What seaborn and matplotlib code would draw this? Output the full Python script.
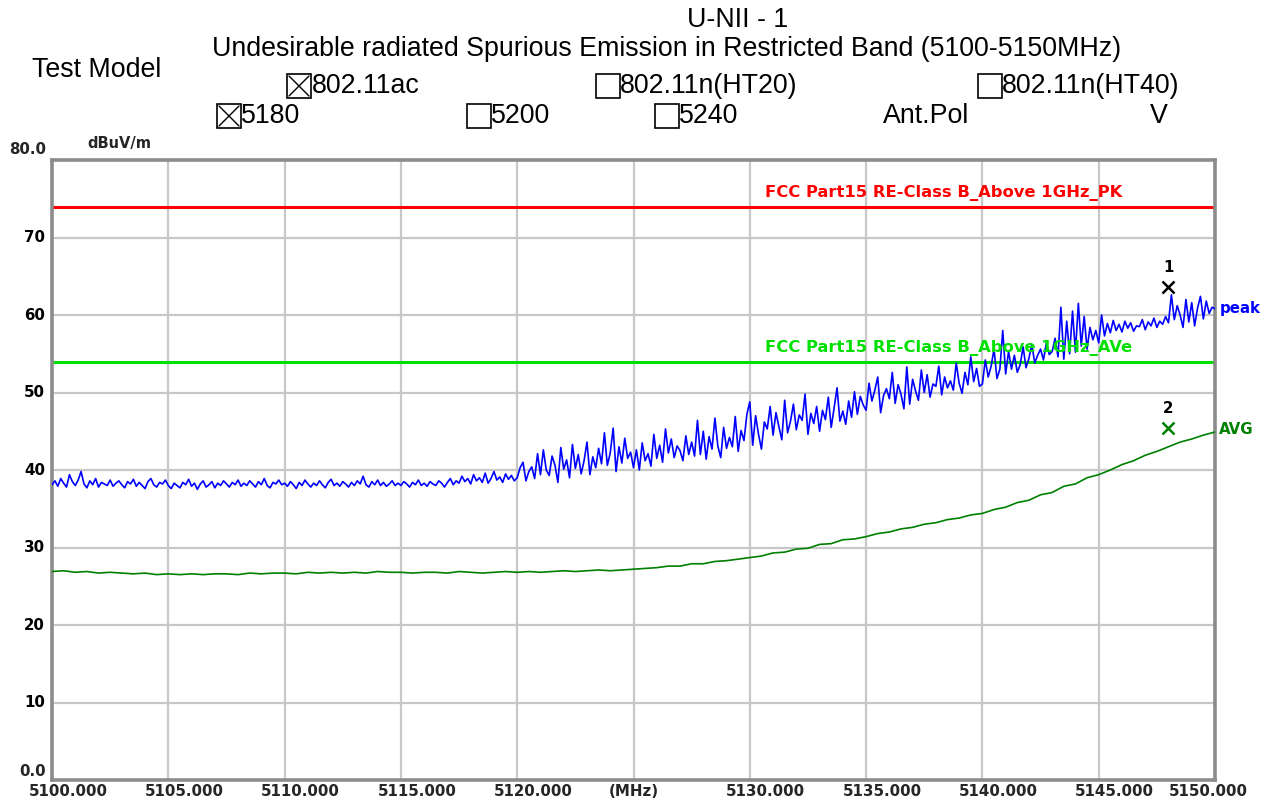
import numpy as np
import pandas as pd
import matplotlib
matplotlib.use('Agg')
import matplotlib.pyplot as plt
import matplotlib.transforms as mtransforms
from matplotlib.patches import Rectangle
from matplotlib.lines import Line2D
import seaborn as sns

# sweep 5100-5150 MHz, peak trace every 0.125 MHz, average every 0.5 MHz
f_start, f_stop = 5100.0, 5150.0

peak_dbuv = [
    # 5100-5105
    38.1, 38.6, 37.9, 38.9, 38.3, 37.8, 39.4, 38.5, 38.0, 38.7, 39.8, 38.2, 37.7, 38.6, 38.1, 38.9, 37.8, 38.4, 38.2, 38.0,
    38.7, 37.9, 38.3, 38.6, 38.1, 37.7, 38.5, 38.2, 38.8, 37.9, 38.4, 38.0, 37.6, 38.5, 38.9, 38.1, 37.8, 38.4, 38.2, 38.7,
    # 5105-5110
    38.0, 37.6, 38.3, 38.0, 37.7, 38.4, 38.1, 38.8, 37.9, 38.3, 37.5, 38.2, 38.6, 37.8, 38.1, 38.5, 37.7, 38.3, 38.0, 38.6,
    38.2, 37.8, 38.4, 38.1, 38.7, 37.9, 38.3, 38.0, 38.6, 38.2, 37.8, 38.5, 38.1, 38.9, 38.0, 37.7, 38.4, 38.2, 38.7, 38.1,
    # 5110-5115
    38.3, 37.9, 38.5, 38.1, 37.6, 38.4, 38.0, 38.7, 38.2, 37.8, 38.3, 38.0, 38.6, 38.1, 37.7, 38.4, 38.8, 38.0, 38.3, 37.9,
    38.5, 38.2, 37.8, 38.4, 38.0, 38.6, 38.2, 39.2, 38.1, 37.8, 38.5, 38.1, 38.7, 38.0, 38.4, 37.9, 38.2, 38.6, 38.0, 38.3,
    # 5115-5120
    38.0, 38.5, 38.2, 37.8, 38.4, 38.1, 38.7, 38.0, 38.3, 37.9, 38.5, 38.2, 38.0, 38.6, 38.3, 37.8, 38.4, 38.9, 38.1, 38.6,
    38.3, 39.2, 38.5, 38.9, 38.2, 39.4, 38.6, 39.0, 38.4, 39.6, 38.3, 38.9, 39.8, 38.7, 39.1, 38.4, 39.5, 38.8, 39.3, 38.6,
    # 5120-5125
    39.0, 40.3, 41.0, 38.6, 39.8, 40.4, 38.9, 42.1, 39.4, 42.6, 40.0, 39.3, 41.8, 40.6, 38.4, 42.9, 40.1, 41.3, 39.0, 43.3,
    40.2, 42.0, 39.5, 41.2, 43.6, 39.4, 41.7, 40.3, 42.8, 40.8, 44.8, 40.6, 42.2, 45.4, 39.8, 43.0, 40.9, 44.1, 41.5, 42.3,
    # 5125-5130
    40.3, 42.6, 40.0, 43.5, 41.2, 42.1, 40.5, 44.6, 41.5, 43.2, 41.0, 45.3, 42.2, 44.0, 41.6, 43.1, 42.5, 41.2, 44.4, 42.0,
    43.6, 41.8, 46.4, 42.0, 45.0, 41.4, 44.3, 42.7, 46.7, 43.1, 41.6, 45.5, 42.8, 44.2, 43.0, 46.9, 42.4, 45.1, 43.8, 47.2,
    # 5130-5135
    48.8, 43.2, 47.0, 44.6, 42.7, 46.2, 45.3, 48.2, 44.5, 47.4, 45.6, 43.9, 49.0, 44.8, 46.3, 48.5, 45.2, 47.1, 46.4, 49.8,
    44.6, 47.3, 46.0, 48.2, 45.0, 47.7, 46.5, 49.4, 45.5, 48.0, 50.6, 46.3, 47.6, 45.9, 48.9, 46.8, 50.1, 47.2, 49.5, 48.4,
    # 5135-5140
    47.7, 51.2, 48.9, 50.3, 52.0, 47.4, 49.6, 50.5, 49.2, 52.6, 48.6, 51.0, 49.8, 47.9, 53.3, 48.5, 51.7, 50.2, 49.0, 52.9,
    50.0, 52.3, 49.4, 51.1, 50.8, 53.4, 49.7, 52.0, 50.6, 51.5, 50.3, 53.8, 51.2, 49.9, 52.6, 51.0, 54.6, 51.4, 53.1, 50.8,
    # 5140-5145
    51.1, 54.2, 52.0, 53.4, 55.6, 51.8, 53.0, 58.0, 52.4, 55.3, 53.0, 54.8, 52.6, 53.6, 55.9, 53.2, 54.4, 56.2, 53.8, 54.8,
    55.6, 54.2, 56.4, 54.9, 55.3, 57.0, 54.6, 61.0, 54.3, 59.2, 55.0, 60.5, 55.2, 61.5, 56.0, 59.8, 55.6, 58.4, 56.8, 58.0,
    # 5145-5150
    56.4, 60.0, 57.3, 58.9, 57.7, 59.3, 58.0, 58.8, 57.8, 59.2, 58.3, 59.0, 57.9, 58.6, 58.5, 59.4, 58.1, 59.1, 58.6, 59.6,
    58.4, 59.2, 58.8, 59.8, 59.0, 62.6, 59.4, 61.2, 60.0, 58.4, 62.0, 59.1, 61.6, 58.6, 60.9, 62.4, 59.5, 61.8, 60.2, 61.0,
    60.8,
]

avg_dbuv = [
    26.9, 27.0, 26.8, 26.9, 26.7, 26.8, 26.7, 26.6, 26.7, 26.5,
    26.6, 26.5, 26.6, 26.5, 26.6, 26.6, 26.5, 26.7, 26.6, 26.7,
    26.7, 26.6, 26.8, 26.7, 26.8, 26.7, 26.8, 26.7, 26.9, 26.8,
    26.8, 26.7, 26.8, 26.8, 26.7, 26.9, 26.8, 26.7, 26.8, 26.9,
    26.8, 26.9, 26.8, 26.9, 27.0, 26.9, 27.0, 27.1, 27.0, 27.1,
    27.2, 27.3, 27.4, 27.6, 27.6, 27.9, 27.9, 28.2, 28.3, 28.5,
    28.7, 28.9, 29.3, 29.4, 29.8, 29.9, 30.4, 30.5, 31.0, 31.1,
    31.4, 31.8, 32.0, 32.4, 32.6, 33.0, 33.2, 33.6, 33.8, 34.2,
    34.4, 34.9, 35.2, 35.8, 36.1, 36.8, 37.1, 37.9, 38.2, 39.0,
    39.4, 40.0, 40.7, 41.2, 41.9, 42.4, 43.0, 43.6, 44.0, 44.5, 44.9,
]

limit_pk = 74.0
limit_av = 54.0
label_pk = 'FCC Part15 RE-Class B_Above 1GHz_PK'
label_av = 'FCC Part15 RE-Class B_Above 1GHz_AVe'

marker_mhz = [5148.0, 5148.0]
marker_dbuv = [63.6, 45.4]
marker_names = ['1', '2']

x_ticks = [5100, 5105, 5110, 5115, 5120, 5125, 5130, 5135, 5140, 5145, 5150]
x_labels = ['5100.000', '5105.000', '5110.000', '5115.000', '5120.000', '(MHz)',
            '5130.000', '5135.000', '5140.000', '5145.000', '5150.000']
y_ticks = [10, 20, 30, 40, 50, 60, 70]

peak = pd.DataFrame({'freq': np.linspace(f_start, f_stop, len(peak_dbuv)), 'level': peak_dbuv})
avg = pd.DataFrame({'freq': np.linspace(f_start, f_stop, len(avg_dbuv)), 'level': avg_dbuv})

sns.set_theme(style='white')
plt.rcParams['font.family'] = ['Liberation Sans', 'DejaVu Sans']

W, H = 1270, 802
fig = plt.figure(figsize=(W / 100, H / 100), dpi=100)
ax = fig.add_axes([52 / W, 1 - 780 / H, (1215 - 52) / W, (780 - 160) / H])

grid_c = '#c8c8c8'
for t in x_ticks[1:-1]:
    ax.axvline(t, color=grid_c, lw=1.6, zorder=0)
for t in y_ticks:
    ax.axhline(t, color=grid_c, lw=1.6, zorder=0)

ax.axhline(limit_pk, color='#ff0000', lw=2.2, zorder=2)
ax.axhline(limit_av, color='#00e000', lw=2.2, zorder=2)

sns.lineplot(data=peak, x='freq', y='level', ax=ax, color='#0000ff', lw=1.2, zorder=3)
sns.lineplot(data=avg, x='freq', y='level', ax=ax, color='#008000', lw=1.2, zorder=3)

ax.set_xlim(f_start, f_stop)
ax.set_ylim(0, 80)
ax.set_xticks([])
ax.set_yticks([])
ax.set_xlabel('')
ax.set_ylabel('')
for s in ax.spines.values():
    s.set_color('#8c8c8c')
    s.set_linewidth(2.6)

bold = dict(family='DejaVu Sans', weight='bold', fontsize=10.8)

# y tick labels
ylab_tr = mtransforms.blended_transform_factory(ax.transAxes, ax.transData)
yoff = mtransforms.offset_copy(ylab_tr, fig=fig, x=-7, y=0, units='dots')
for t in y_ticks:
    ax.text(0, t, str(t), transform=yoff, ha='right', va='center', color='black', **bold)
ax.text(0, 80, '80.0', transform=mtransforms.offset_copy(ylab_tr, fig=fig, x=-6, y=3, units='dots'),
        ha='right', va='bottom', **bold)
ax.text(0, 0, '0.0', transform=mtransforms.offset_copy(ylab_tr, fig=fig, x=-6, y=1, units='dots'),
        ha='right', va='bottom', **bold)
ax.text((87 - 52) / (1215 - 52), 1, 'dBuV/m',
        transform=mtransforms.offset_copy(ax.transAxes, fig=fig, x=0, y=9, units='dots'),
        ha='left', va='bottom', family='DejaVu Sans', weight='bold', fontsize=10.5)

# x tick labels
xlab_tr = mtransforms.blended_transform_factory(ax.transData, ax.transAxes)
for t, lab in zip(x_ticks, x_labels):
    if lab.startswith('('):
        dx = 0
    elif t == f_stop:
        dx = -7
    else:
        dx = 16
    ax.text(t, 0, lab, transform=mtransforms.offset_copy(xlab_tr, fig=fig, x=dx, y=-11, units='dots'),
            ha='center', va='center', **bold)

# limit labels
lim_font = dict(family='DejaVu Sans', weight='bold', fontsize=11.8)
ax.text(5130.65, limit_pk + 1.8, label_pk, color='#ff0000', ha='left', va='center', **lim_font)
ax.text(5130.65, limit_av + 1.8, label_av, color='#00e000', ha='left', va='center', **lim_font)

# trace names
ax.text(1, 60.8, 'peak', transform=mtransforms.offset_copy(ylab_tr, fig=fig, x=5, y=0, units='dots'),
        color='#0000ff', ha='left', va='center', **bold)
ax.text(1, 45.2, 'AVG', transform=mtransforms.offset_copy(ylab_tr, fig=fig, x=4, y=0, units='dots'),
        color='#008000', ha='left', va='center', **bold)

# markers
m_colors = ['black', '#008000']
for mx, my, name, c in zip(marker_mhz, marker_dbuv, marker_names, m_colors):
    ax.plot([mx], [my], marker='x', ms=9, mew=1.8, color=c, zorder=5, clip_on=False)
    ax.text(mx, my + 1.6, name, color='black', ha='center', va='bottom', **bold)

# header
hdr = dict(fontsize=19.3, color='black', family='Liberation Sans')


def ftext(x, y, s, ha='left'):
    fig.text(x / W, 1 - y / H, s, ha=ha, va='center', **hdr)


def checkbox(x, y, checked):
    size = 24
    fig.add_artist(Rectangle((x / W, 1 - (y + size / 2) / H), size / W, size / H,
                             transform=fig.transFigure, fill=False, ec='black', lw=1.2))
    if checked:
        x0, x1 = (x + 2) / W, (x + size - 2) / W
        y0, y1 = 1 - (y + size / 2 - 2) / H, 1 - (y - size / 2 + 2) / H
        fig.add_artist(Line2D([x0, x1], [y0, y1], transform=fig.transFigure, color='black', lw=1.0))
        fig.add_artist(Line2D([x0, x1], [y1, y0], transform=fig.transFigure, color='black', lw=1.0))


ftext(738, 20, 'U-NII - 1', ha='center')
ftext(667, 49, 'Undesirable radiated Spurious Emission in Restricted Band (5100-5150MHz)', ha='center')
ftext(97, 70, 'Test Model', ha='center')

checkbox(287, 86, True)
ftext(312, 86, '802.11ac')
checkbox(596, 86, False)
ftext(620, 86, '802.11n(HT20)')
checkbox(978, 86, False)
ftext(1002, 86, '802.11n(HT40)')

checkbox(217, 116, True)
ftext(241, 116, '5180')
checkbox(467, 116, False)
ftext(491, 116, '5200')
checkbox(655, 116, False)
ftext(679, 116, '5240')
ftext(883, 116, 'Ant.Pol')
ftext(1159, 116, 'V', ha='center')

fig.savefig('out.png', dpi=100, facecolor='white')
